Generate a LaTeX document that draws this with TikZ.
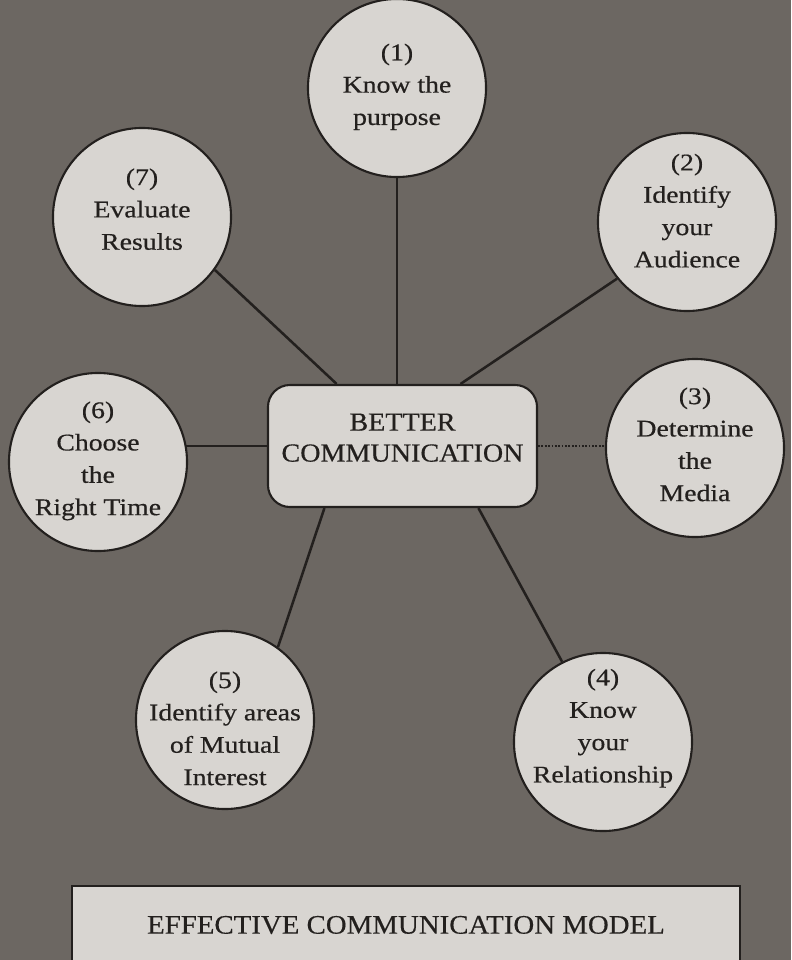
\documentclass[tikz,border=0pt]{standalone}
\usepackage{fontspec}
\setmainfont{Liberation Serif}
\newfontfamily\discfont{Liberation Serif}[FakeStretch=1.16, FakeBold=0.5]
\newfontfamily\hubfont{Liberation Serif}[FakeStretch=1.08, FakeBold=0.4]
\usepackage{tikz}
\usetikzlibrary{positioning, calc}
\definecolor{paper}{RGB}{108,103,98}
\definecolor{disc}{RGB}{216,213,209}
\definecolor{ink}{RGB}{35,32,30}
\pgfdeclarelayer{back}
\pgfdeclarelayer{wires}
\pgfsetlayers{back,wires,main}
\tikzset{every picture/.append style={thick}}
% lines of text, raised by #1 round the node centre
\newcommand{\lines}[2]{\raisebox{#1}[0pt][0pt]{\begin{tabular}{@{}c@{}}#2\end{tabular}}}

\begin{document}
\begin{tikzpicture}[x=0.025cm, y=-0.025cm,
    stage/.style={circle, draw=ink, line width=1.5pt, fill=disc, minimum size=4.45cm,
        inner sep=0pt, text=ink, font=\discfont\fontsize{17}{23}\selectfont},
    hub/.style={rectangle, rounded corners=0.55cm, draw=ink, line width=1.5pt, fill=disc,
        minimum width=6.725cm, minimum height=3.05cm, inner sep=0pt, text=ink,
        font=\hubfont\fontsize{18.5}{22}\selectfont},
    banner/.style={rectangle, draw=ink, line width=1.5pt, fill=disc, minimum width=16.7cm,
        minimum height=2.2cm, inner sep=0pt, text=ink, font=\hubfont\fontsize{19}{22}\selectfont},
    link/.style={draw=ink, line width=1.8pt},
    dotlink/.style={draw=ink, line width=1.5pt, dash pattern=on 1.2pt off 1.2pt}]

    \useasboundingbox (0,0) rectangle (791,960);
    \clip (0,0) rectangle (791,960);

    % ---------------------------------------------------
    % Halftone page
    % ---------------------------------------------------
    \begin{pgfonlayer}{back}
        \fill[paper] (0,0) rectangle (791,960);
    \end{pgfonlayer}

    % ---------------------------------------------------
    % Hub and the seven steps
    % ---------------------------------------------------
    \node[hub] (better) at (402.5,446) {\lines{0pt}{BETTER\\COMMUNICATION}};

    \node[stage] (purpose)  at (397,88)  {\lines{-3pt}{(1)\\Know the\\purpose}};
    \node[stage] (audience) at (687,222) {\lines{2.5pt}{(2)\\Identify\\your\\Audience}};
    \node[stage] (media)    at (695,448) {\lines{-3pt}{(3)\\Determine\\the\\Media}};
    \node[stage] (relation) at (603,742) {\lines{6pt}{(4)\\Know\\your\\Relationship}};
    \node[stage] (interest) at (225,720) {\lines{-11.5pt}{(5)\\Identify areas\\of Mutual\\Interest}};
    \node[stage] (timing)   at (98,462)  {\lines{-3pt}{(6)\\Choose\\the\\Right Time}};
    \node[stage] (evaluate) at (142,217) {\lines{0pt}{(7)\\Evaluate\\Results}};

    % Caption
    \node[banner] (model) at (406,930) {\lines{-2.5pt}{EFFECTIVE COMMUNICATION MODEL}};

    % ---------------------------------------------------
    % Spokes
    % ---------------------------------------------------
    \begin{pgfonlayer}{wires}
        \draw[link] (purpose) -- (purpose |- better.north);
        \draw[link] (audience.219) -- ($(better.north west)!0.714!(better.north east)$);
        \draw[dotlink] (better.east) -- (better.east -| media);
        \draw[link] (relation.117) -- ($(better.south west)!0.78!(better.south east)$);
        \draw[link] (interest.54.5) -- ($(better.south west)!0.212!(better.south east)$);
        \draw[link] (better.west) -- (better.west -| timing);
        \draw[link] (evaluate.324) -- ($(better.north west)!0.257!(better.north east)$);
    \end{pgfonlayer}

\end{tikzpicture}
\end{document}
